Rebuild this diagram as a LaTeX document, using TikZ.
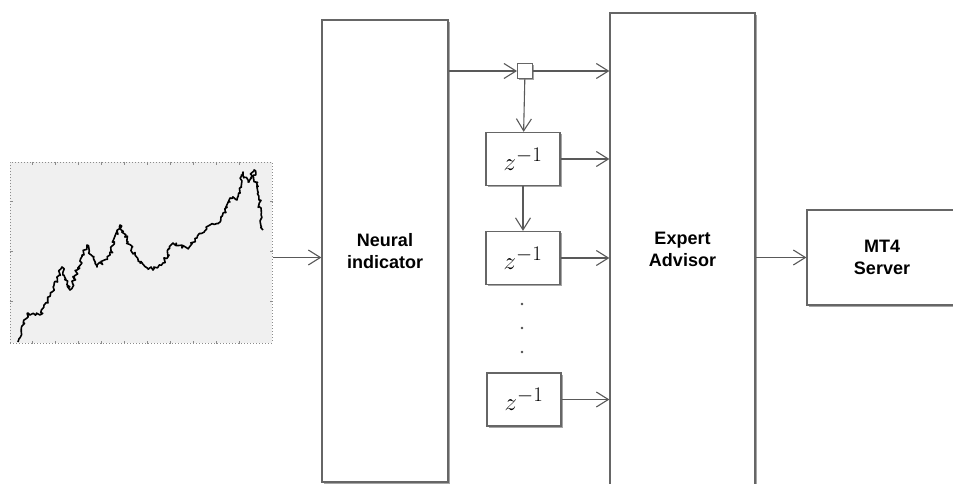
\documentclass[tikz,border=0pt]{standalone}
\usepackage{fontspec}
\setmainfont{Liberation Sans}
\usetikzlibrary{positioning,calc,shadows,arrows.meta,decorations.pathmorphing}

\begin{document}
\begin{tikzpicture}[x=1pt,y=-1pt,
    block/.style={draw=black!60, line width=1.3pt, fill=white,
        drop shadow={shadow xshift=1.6pt, shadow yshift=-1.6pt, fill=black!35, opacity=1},
        font=\fontsize{18}{22}\selectfont\bfseries, align=center, inner sep=0pt},
    delay/.style={block, minimum width=74pt, minimum height=53pt, font=\fontsize{29}{29}\selectfont},
    arr/.style={draw=black!65, line width=1.1pt, -{Straight Barb[length=12pt,width=15pt]}}]
    \useasboundingbox (0,0) rectangle (953,484);
    \clip (0,0) rectangle (953,484);

    % Price chart
    \pgfmathsetseed{11}
    \node[draw=black!45, dotted, line width=1pt, fill=black!6, minimum width=262pt, minimum height=181pt, inner sep=0pt] (chart) at (141,252.5) {};
    \foreach \x in {23,46,...,250} {
        \draw[black!45] (chart.north west) ++(\x,0) -- ++(0,3);
        \draw[black!45] (chart.south west) ++(\x,0) -- ++(0,-3);
    }
    \foreach \y in {40,90,140} {
        \draw[black!45] (chart.north west) ++(0,\y) -- ++(3,0);
        \draw[black!45] (chart.north east) ++(0,\y) -- ++(-3,0);
    }
    \draw[line width=1.6pt, line join=round, decorate, decoration={random steps, segment length=2pt, amplitude=2pt}]
        (18,342) -- (28,313) -- (40,315) -- (52,292) -- (62,267) -- (70,290) -- (77,270)
        -- (87,245) -- (97,267) -- (110,255) -- (120,225) -- (128,242) -- (140,263)
        -- (153,270) -- (163,263) -- (173,243) -- (187,248) -- (197,238) -- (210,225)
        -- (220,222) -- (230,198) -- (237,200) -- (243,172) -- (248,182) -- (254,170)
        -- (259,200) -- (263,230);

    % Blocks
    \node[block, minimum width=126pt, minimum height=462pt] (neural) at (385,251) {Neural\\indicator};
    \node[block, minimum width=145pt, minimum height=472pt] (expert) at (682.5,249) {Expert\\Advisor};
    \node[block, minimum width=150pt, minimum height=95pt] (mt4) at (882,257.5) {MT4\\Server};

    % Tap and delays
    \node[block, line width=1pt, minimum size=15pt] (tap) at (525,71) {};
    \node[delay] (zA) at (523,159) {$z^{-1}$};
    \node[delay] (zB) at (523,258) {$z^{-1}$};
    \node[delay] (zC) at (524,399.5) {$z^{-1}$};
    \foreach \y in {304,328,352}
        \fill[black!70] (522,\y) circle (1.3pt);

    % Signal flow
    \draw[arr] (chart.east |- mt4) -- (neural.west |- mt4);
    \draw[arr] (neural.east |- tap) -- (tap);
    \draw[arr] (tap) -- (tap -| expert.west);
    \draw[arr] (tap) -- (zA);
    \draw[arr] (zA) -- (zB);
    \draw[arr] (zA) -- (zA -| expert.west);
    \draw[arr] (zB) -- (zB -| expert.west);
    \draw[arr] (zC) -- (zC -| expert.west);
    \draw[arr] (expert.east |- mt4) -- (mt4);
\end{tikzpicture}
\end{document}
